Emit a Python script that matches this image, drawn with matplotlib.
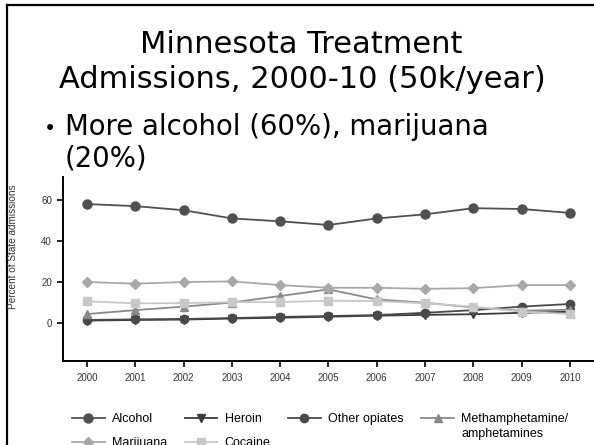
import matplotlib
matplotlib.use("Agg")
import matplotlib.pyplot as plt
from matplotlib.lines import Line2D

years = [2000, 2001, 2002, 2003, 2004, 2005, 2006, 2007, 2008, 2009, 2010]
alcohol = [58.0, 57.0, 55.0, 51.0, 49.6, 47.8, 51.0, 53.0, 56.0, 55.6, 53.7]
heroin = [1.2, 1.5, 1.7, 2.2, 2.6, 3.1, 3.6, 4.0, 4.3, 5.0, 5.5]
other_opiates = [1.5, 1.8, 2.0, 2.4, 3.0, 3.4, 3.9, 5.0, 6.3, 8.0, 9.3]
meth = [4.4, 6.3, 8.0, 10.0, 13.2, 16.4, 11.5, 9.9, 7.6, 6.0, 6.5]
marijuana = [20.0, 19.2, 20.0, 20.3, 18.5, 17.2, 17.2, 16.7, 17.0, 18.5, 18.5]
cocaine = [10.6, 9.6, 9.7, 10.2, 10.2, 10.9, 10.7, 9.6, 8.0, 5.5, 4.4]

yticks = [0, 20, 40, 60]

W, H = 594, 445
fig = plt.figure(figsize=(W / 100, H / 100), dpi=100)

def fx(px):
    return px / W

def fy(py):
    return 1 - py / H

# slide frame
fig.add_artist(Line2D([fx(7), fx(7)], [0, fy(5)], color="black", lw=1.6))
fig.add_artist(Line2D([fx(7), 1], [fy(5), fy(5)], color="black", lw=1.6))

# slide text
tfont = "DejaVu Sans"
fig.text(fx(301), fy(53), "Minnesota Treatment", ha="center", va="baseline",
         fontsize=22, family=tfont)
fig.text(fx(302), fy(88), "Admissions, 2000-10 (50k/year)", ha="center", va="baseline",
         fontsize=22, family=tfont)
fig.text(fx(44), fy(135), "\u2022", ha="left", va="baseline", fontsize=15, family=tfont)
fig.text(fx(65), fy(135), "More alcohol (60%), marijuana", ha="left", va="baseline",
         fontsize=19.8, family=tfont)
fig.text(fx(65), fy(167), "(20%)", ha="left", va="baseline", fontsize=19.8, family=tfont)

# axes
ax = fig.add_axes([fx(63), fy(361), 1 - fx(63), fy(177) - fy(361)])
ax.set_xlim(1999.5, 2010.5)
ax.set_ylim(-18.5, 71.2)

lw = 1.3
series = [
    ("Alcohol", alcohol, "#505050", "o", 6.5),
    ("Heroin", heroin, "#3a3a3a", "v", 6.0),
    ("Other opiates", other_opiates, "#4a4a4a", "o", 6.0),
    ("Methamphetamine/", meth, "#8a8a8a", "^", 6.0),
    ("Marijuana", marijuana, "#a8a8a8", "D", 5.5),
    ("Cocaine", cocaine, "#c8c8c8", "s", 6.0),
]
handles = {}
for name, vals, col, mk, ms in series:
    h, = ax.plot(years, vals, color=col, marker=mk, markersize=ms, lw=lw,
                 markeredgecolor=col, markerfacecolor=col)
    handles[name] = h

for s in ["top", "right"]:
    ax.spines[s].set_visible(False)
for s in ["left", "bottom"]:
    ax.spines[s].set_linewidth(1.4)
ax.set_xticks(years)
ax.set_xticklabels([str(y) for y in years], fontsize=7, family="Liberation Sans",
                   color="#333333")
ax.set_yticks(yticks)
ax.set_yticklabels([str(v) for v in yticks], fontsize=7, family="Liberation Sans",
                   color="#333333")
ax.tick_params(axis="both", length=4, width=1.2, direction="out")
ax.tick_params(axis="x", pad=4.5)
ax.tick_params(axis="y", pad=4)
ax.patch.set_alpha(0)

fig.text(fx(13), fy(247), "Percent of State admissions", rotation=90, ha="center",
         va="center", fontsize=7.2, family="Liberation Sans", color="#333333")

order = ["Alcohol", "Marijuana", "Heroin", "Cocaine", "Other opiates",
         "Methamphetamine/"]
leg = fig.legend([handles[k] for k in order], order, ncol=4,
                 loc="upper left", bbox_to_anchor=(fx(72), fy(413)),
                 frameon=False, prop={"family": "Liberation Sans", "size": 9},
                 handlelength=2.6, handletextpad=0.6, columnspacing=1.4,
                 labelspacing=0.95, borderaxespad=0, borderpad=0)

fig.canvas.draw()
meth_txt = [t for t in leg.get_texts() if t.get_text() == "Methamphetamine/"][0]
bb = meth_txt.get_window_extent(fig.canvas.get_renderer())
fig.text(bb.x0 / W, (bb.y0 - 15) / H, "amphetamines", ha="left", va="bottom",
         fontsize=9, family="Liberation Sans", color=meth_txt.get_color())

fig.savefig("out.png", dpi=100)
